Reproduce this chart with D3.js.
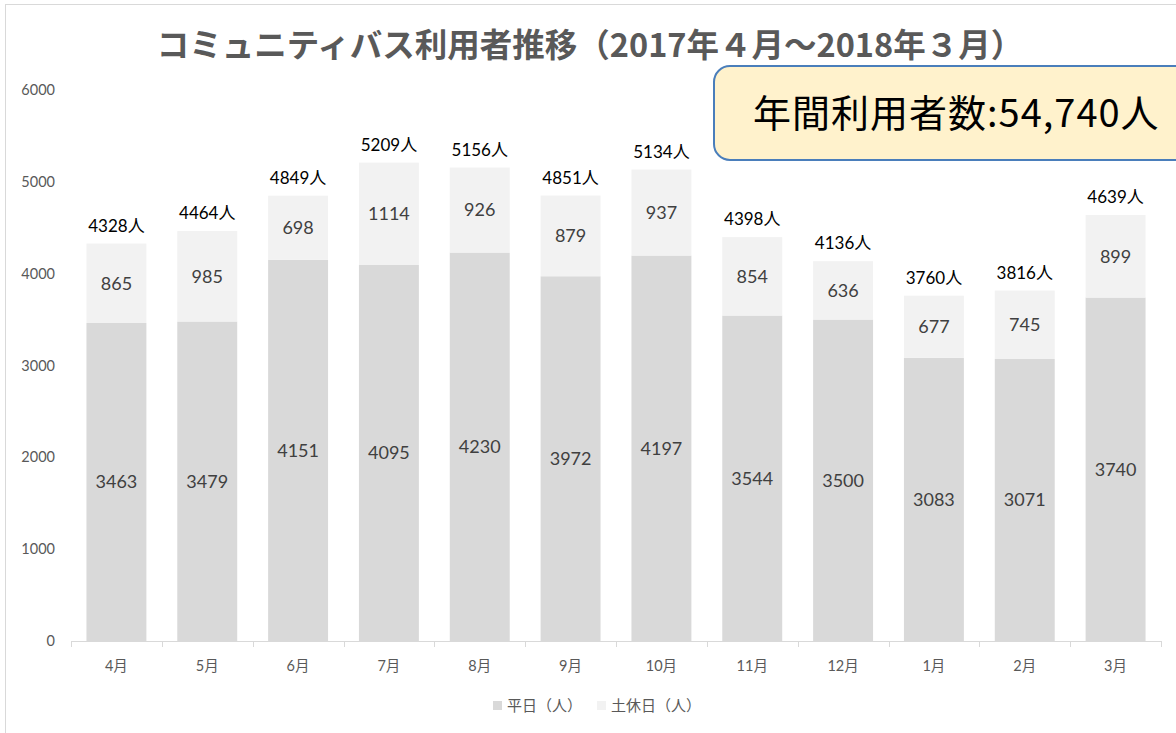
<!DOCTYPE html>
<html>
<head>
<meta charset="utf-8">
<script src="https://cdn.jsdelivr.net/npm/d3@7"></script>
<style>
  body { margin: 0; background: #fff; }
  svg { display: block; }
</style>
</head>
<body>
<svg id="chart" width="1176" height="733"></svg>
<script>
const months = ['4月', '5月', '6月', '7月', '8月', '9月', '10月', '11月', '12月', '1月', '2月', '3月'];
const weekday = [3463, 3479, 4151, 4095, 4230, 3972, 4197, 3544, 3500, 3083, 3071, 3740];
const holiday = [865, 985, 698, 1114, 926, 879, 937, 854, 636, 677, 745, 899];
const yTicks = [0, 1000, 2000, 3000, 4000, 5000, 6000];
const seriesNames = ['平日（人）', '土休日（人）'];
const seriesColors = ['#d9d9d9', '#f2f2f2'];
const titleText = 'コミュニティバス利用者推移（2017年４月～2018年３月）';
const annualText = '年間利用者数:54,740人';

const numFont = 'Lato, "Noto Sans CJK JP", sans-serif';
const jpFont = '"Noto Sans CJK JP", sans-serif';

const svg = d3.select('#chart');

// chart frame (bottom and right run off the picture)
svg.append('rect')
  .attr('x', 5.5).attr('y', 4.5)
  .attr('width', 1200).attr('height', 760)
  .attr('fill', 'none')
  .attr('stroke', '#d9d9d9');

const x = d3.scaleBand()
  .domain(months)
  .range([71, 1161])
  .paddingInner(0.34)
  .paddingOuter(0.17);

const y = d3.scaleLinear()
  .domain([0, 6000])
  .range([641, 90]);

// table for stack
const table = months.map((m, i) => ({ month: m, weekday: weekday[i], holiday: holiday[i] }));
const stack = d3.stack().keys(['weekday', 'holiday']);
const layers = stack(table);

// y tick labels
svg.append('g')
  .selectAll('text')
  .data(yTicks)
  .enter()
    .append('text')
    .attr('x', 55)
    .attr('y', d => y(d))
    .attr('dy', '0.35em')
    .attr('text-anchor', 'end')
    .attr('font-family', numFont)
    .attr('font-size', 14.5)
    .attr('fill', '#595959')
    .text(d => d);

// bars
const g = svg.append('g');
layers.forEach((layer, li) => {
  g.append('g')
    .selectAll('rect')
    .data(layer)
    .enter()
      .append('rect')
      .attr('x', d => x(d.data.month))
      .attr('width', x.bandwidth())
      .attr('y', d => y(d[1]))
      .attr('height', d => y(d[0]) - y(d[1]))
      .attr('fill', seriesColors[li]);

  // segment value labels
  g.append('g')
    .selectAll('text')
    .data(layer)
    .enter()
      .append('text')
      .attr('x', d => x(d.data.month) + x.bandwidth() / 2)
      .attr('y', d => (y(d[0]) + y(d[1])) / 2)
      .attr('dy', '0.35em')
      .attr('text-anchor', 'middle')
      .attr('font-family', numFont)
      .attr('font-size', 18)
      .attr('fill', '#404040')
      .text(d => d[1] - d[0]);
});

// totals above bars
g.append('g')
  .selectAll('text')
  .data(table)
  .enter()
    .append('text')
    .attr('x', d => x(d.month) + x.bandwidth() / 2)
    .attr('y', d => y(d.weekday + d.holiday) - 12)
    .attr('text-anchor', 'middle')
    .attr('font-family', numFont)
    .attr('font-size', 17)
    .attr('fill', '#000')
    .text(d => (d.weekday + d.holiday) + '人');

// x axis
const xAxis = svg.append('g');
xAxis.append('line')
  .attr('x1', 71).attr('x2', 1161)
  .attr('y1', 641.5).attr('y2', 641.5)
  .attr('stroke', '#d9d9d9');
const step = x.step();
xAxis.selectAll('line.tick')
  .data(d3.range(months.length + 1))
  .enter()
    .append('line')
    .attr('class', 'tick')
    .attr('x1', i => Math.round(71 + i * step) + 0.5)
    .attr('x2', i => Math.round(71 + i * step) + 0.5)
    .attr('y1', 641).attr('y2', 647)
    .attr('stroke', '#d9d9d9');
xAxis.selectAll('text')
  .data(months)
  .enter()
    .append('text')
    .attr('x', d => x(d) + x.bandwidth() / 2)
    .attr('y', 666)
    .attr('dy', '0.35em')
    .attr('text-anchor', 'middle')
    .attr('font-family', numFont)
    .attr('font-size', 14.5)
    .attr('fill', '#595959')
    .text(d => d);

// title
svg.append('text')
  .attr('x', 590)
  .attr('y', 57)
  .attr('text-anchor', 'middle')
  .attr('font-family', jpFont)
  .attr('font-weight', 'bold')
  .attr('font-size', 32.5)
  .attr('fill', '#595959')
  .text(titleText);

// annual total box
svg.append('rect')
  .attr('x', 714).attr('y', 66)
  .attr('width', 500).attr('height', 94)
  .attr('rx', 16).attr('ry', 16)
  .attr('fill', '#fff2cc')
  .attr('stroke', '#4a7ebb')
  .attr('stroke-width', 2);
svg.append('text')
  .attr('x', 753)
  .attr('y', 114)
  .attr('dy', '0.35em')
  .attr('font-family', jpFont)
  .attr('font-size', 38)
  .attr('letter-spacing', 1)
  .attr('fill', '#000')
  .text(annualText);

// legend
const legendX = [493, 597];
const legend = svg.append('g');
seriesNames.forEach((name, i) => {
  legend.append('rect')
    .attr('x', legendX[i]).attr('y', 701)
    .attr('width', 9).attr('height', 9)
    .attr('fill', seriesColors[i]);
  legend.append('text')
    .attr('x', legendX[i] + 14)
    .attr('y', 706)
    .attr('dy', '0.35em')
    .attr('font-family', jpFont)
    .attr('font-size', 15)
    .attr('fill', '#595959')
    .text(name);
});
</script>
</body>
</html>
